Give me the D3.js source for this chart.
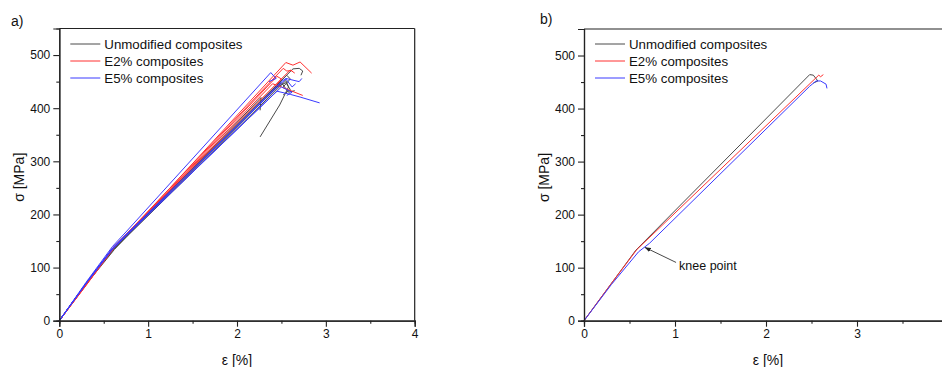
<!DOCTYPE html>
<html>
<head>
<meta charset="utf-8">
<script src="https://cdn.jsdelivr.net/npm/d3@7"></script>
<style>
  html, body { margin: 0; padding: 0; background: #fff; }
  svg { display: block; font-family: "Liberation Sans", Arial, sans-serif; }
</style>
</head>
<body>
<svg id="chart" width="942" height="367"></svg>
<script>
// Stress–strain curves [strain %, stress MPa]
const unmodifiedA = [
  [[0,0],[0.3,70],[0.6,135],[0.75,161],[2.63,474],[2.70,475],[2.74,470],[2.72,462]],
  [[0,0],[0.3,68],[0.62,134],[0.77,160],[2.55,452],[2.58,440],[2.48,406],[2.26,346]],
  [[0,0],[0.3,69],[0.6,132],[0.75,158],[2.27,420],[2.26,396]],
  [[0,0],[0.3,70],[0.6,135],[0.75,160],[2.45,440],[2.55,448],[2.6,435],[2.52,425]],
  [[0,0],[0.3,69],[0.61,134],[0.76,159],[2.5,448],[2.58,430],[2.65,433]],
  [[0,0],[0.3,70],[0.6,136],[0.75,162],[2.56,462],[2.6,455],[2.52,440]]
];
const e2A = [
  [[0,0],[0.3,66],[0.6,134],[0.75,160],[2.55,486],[2.63,481],[2.71,487],[2.84,466]],
  [[0,0],[0.3,68],[0.6,136],[0.75,162],[2.52,475],[2.56,470],[2.62,471]],
  [[0,0],[0.3,67],[0.62,138],[0.77,163],[2.45,460],[2.5,455],[2.45,445]],
  [[0,0],[0.3,68],[0.6,137],[0.75,162],[2.6,472],[2.65,466]],
  [[0,0],[0.3,67],[0.6,135],[0.75,160],[2.4,446],[2.5,440],[2.74,424]]
];
const e5A = [
  [[0,0],[0.3,72],[0.6,140],[0.75,167],[2.38,467],[2.44,456],[2.36,450]],
  [[0,0],[0.3,70],[0.6,136],[0.75,161],[2.5,450],[2.55,456],[2.7,450],[2.73,456]],
  [[0,0],[0.3,70],[0.6,135],[0.75,159],[2.45,432],[2.6,426],[2.71,421],[2.93,410]],
  [[0,0],[0.3,70],[0.6,137],[0.75,162],[2.55,455],[2.62,440],[2.66,446]],
  [[0,0],[0.3,70],[0.6,135],[0.75,160],[2.5,440],[2.62,430],[2.56,424]]
];
const unmodifiedB = [[0,0],[0.3,70],[0.57,133],[2.48,464],[2.52,463],[2.57,452],[2.52,448]];
const e2B = [[0,0],[0.3,70],[0.58,134],[2.58,463],[2.6,460],[2.63,464]];
const e5B = [[0,0],[0.3,68],[0.6,130],[0.72,146],[2.48,442],[2.55,452],[2.6,452],[2.66,446],[2.67,438]];

const legendLabels = ["Unmodified composites", "E2% composites", "E5% composites"];
const seriesColors = ["#4a4a4a", "#ff3030", "#3a3aff"];
const xTicks = [0, 1, 2, 3, 4];
const yTicks = [0, 100, 200, 300, 400, 500];
const kneeLabel = "knee point";
const kneeAt = [0.66, 140];

const W = 942;
const svg = d3.select("#chart");
svg.append("defs").append("marker")
  .attr("id", "arrow").attr("viewBox", "0 0 10 10")
  .attr("refX", 9).attr("refY", 5)
  .attr("markerWidth", 7).attr("markerHeight", 7)
  .attr("orient", "auto-start-reverse")
  .append("path").attr("d", "M0,1.5 L10,5 L0,8.5 Z").attr("fill", "#222");

function panel(opts) {
  const g = svg.append("g");
  const x = d3.scaleLinear().domain([0, 4]).range([opts.left, opts.right]);
  const y = d3.scaleLinear().domain([0, 550]).range([opts.bottom, opts.top]);
  const line = d3.line().x(d => x(d[0])).y(d => y(d[1]));
  const visible = v => x(v) <= W - 4;

  // curves
  opts.groups.forEach((curves, i) => {
    curves.forEach(c => {
      g.append("path").attr("d", line(c))
        .attr("fill", "none").attr("stroke", seriesColors[i])
        .attr("stroke-width", 1).attr("stroke-linejoin", "round");
    });
  });

  // frame
  g.append("line").attr("x1", opts.left).attr("x2", Math.min(opts.right, W))
    .attr("y1", opts.top).attr("y2", opts.top).attr("stroke", "#222").attr("stroke-width", 1.2);
  if (opts.right <= W) {
    g.append("line").attr("x1", opts.right).attr("x2", opts.right)
      .attr("y1", opts.top).attr("y2", opts.bottom).attr("stroke", "#222").attr("stroke-width", 1.2);
  }

  // axes
  const xAxis = d3.axisBottom(x).tickValues(xTicks.filter(visible)).tickSize(6).tickPadding(3).tickFormat(d3.format("d"));
  const xMinor = d3.axisBottom(x).tickValues(d3.range(0.5, 4, 1).filter(visible)).tickSize(3).tickFormat("");
  const yAxis = d3.axisLeft(y).tickValues(yTicks).tickSize(6).tickPadding(3).tickFormat(d3.format("d"));
  const yMinor = d3.axisLeft(y).tickValues(d3.range(50, 550, 100)).tickSize(3).tickFormat("");

  [[xAxis, "b"], [xMinor, "b"], [yAxis, "l"], [yMinor, "l"]].forEach(([ax, side]) => {
    const a = g.append("g")
      .attr("transform", side === "b" ? `translate(0,${opts.bottom})` : `translate(${opts.left},0)`)
      .call(ax);
    a.select(".domain").attr("stroke", "#222").attr("stroke-width", 1.2);
    a.selectAll(".tick line").attr("stroke", "#222").attr("stroke-width", 1.1);
    a.selectAll("text").attr("font-size", 12).attr("fill", "#111")
      .attr("font-family", "Liberation Sans, Arial, sans-serif");
  });

  // axis titles
  g.append("text").attr("x", opts.titleX).attr("y", 365)
    .attr("text-anchor", "middle").attr("font-size", 14).attr("fill", "#111").text("ε [%]");
  g.append("text").attr("transform", `translate(${opts.left - 35},${y(270)}) rotate(-90)`)
    .attr("text-anchor", "middle").attr("font-size", 14).attr("fill", "#111").text("σ [MPa]");

  // panel letter
  g.append("text").attr("x", opts.letterX).attr("y", opts.letterY)
    .attr("font-size", 14).attr("fill", "#111").text(opts.letter);

  // legend
  legendLabels.forEach((lab, i) => {
    const ly = 44 + i * 17;
    g.append("line").attr("x1", opts.left + 11).attr("x2", opts.left + 41)
      .attr("y1", ly).attr("y2", ly).attr("stroke", seriesColors[i]).attr("stroke-width", 1);
    g.append("text").attr("x", opts.left + 45).attr("y", ly + 4.5)
      .attr("font-size", 13.3).attr("fill", "#111").text(lab);
  });
  return { g, x, y };
}

panel({
  left: 59.3, right: 414.7, top: 28.5, bottom: 320.7, titleX: 237,
  groups: [unmodifiedA, e2A, e5A], letter: "a)", letterX: 11, letterY: 26
});

const pb = panel({
  left: 584, right: 948, top: 29, bottom: 320.7, titleX: 768,
  groups: [[unmodifiedB], [e2B], [e5B]], letter: "b)", letterX: 540, letterY: 24
});

// knee point annotation
const kx = pb.x(kneeAt[0]), ky = pb.y(kneeAt[1]);
pb.g.append("line")
  .attr("x1", kx + 32).attr("y1", ky + 16)
  .attr("x2", kx + 1).attr("y2", ky + 1)
  .attr("stroke", "#333").attr("stroke-width", 0.9).attr("marker-end", "url(#arrow)");
pb.g.append("text").attr("x", kx + 35).attr("y", ky + 24)
  .attr("font-size", 12.5).attr("fill", "#111").text(kneeLabel);
</script>
</body>
</html>
